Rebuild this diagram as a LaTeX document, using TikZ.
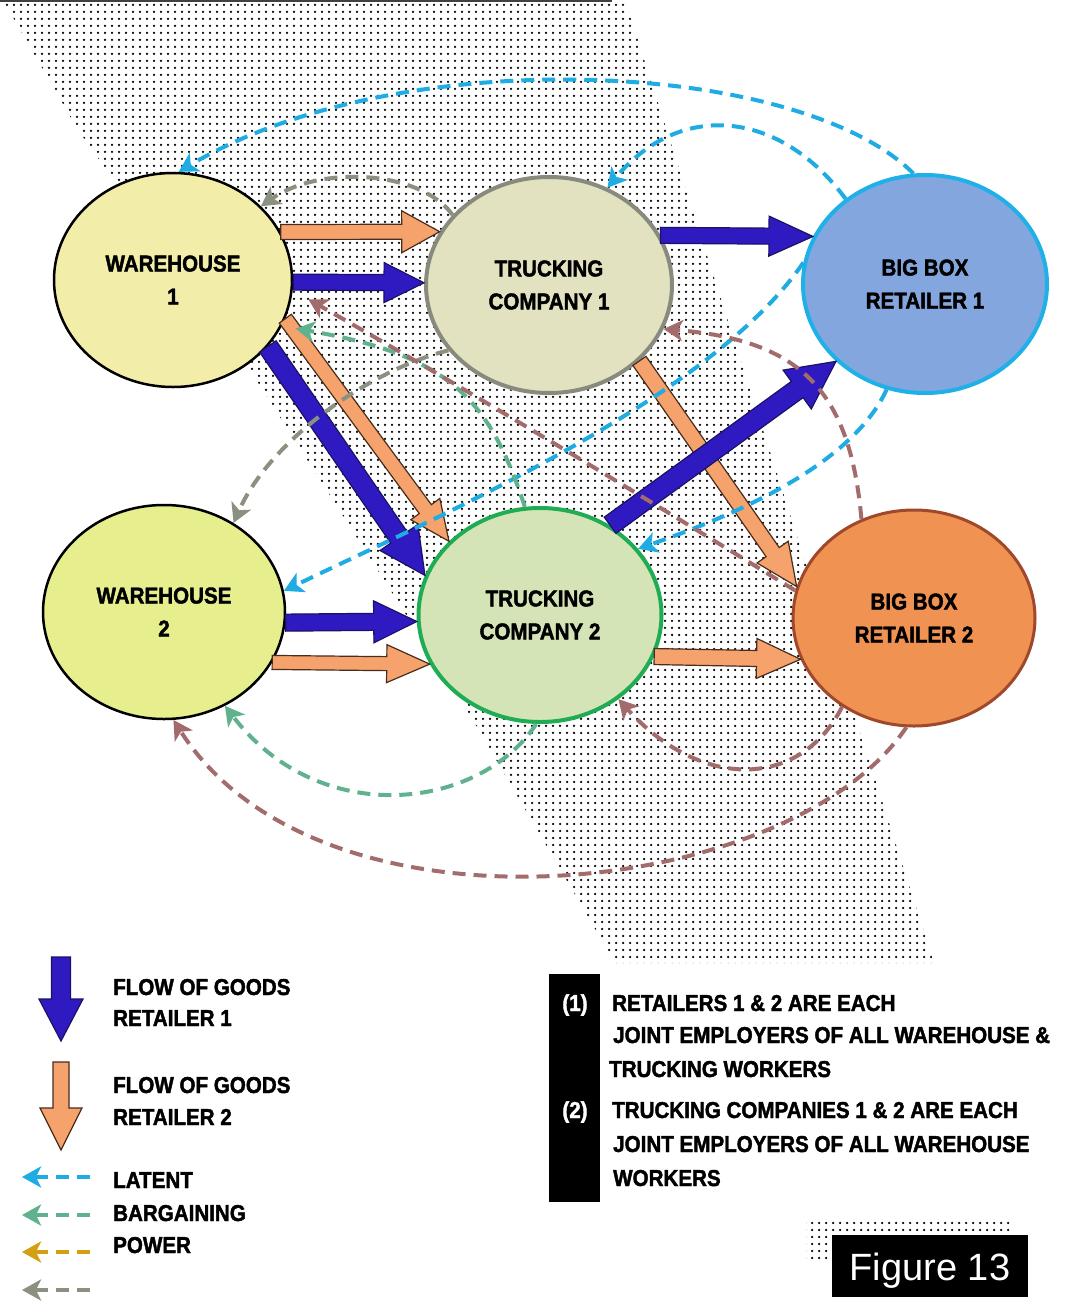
\documentclass[tikz,border=0pt]{standalone}
\usepackage{fontspec}
\setmainfont{Liberation Sans}
\newfontfamily\condbold{Liberation Sans Bold}[FakeStretch=0.895, FakeBold=1.8]
\newfontfamily\figfont{Liberation Sans}
\usetikzlibrary{arrows.meta,calc,patterns,shapes.geometric}
\pgfdeclarepatternformonly{mydots}{\pgfqpoint{-2pt}{-2pt}}{\pgfqpoint{2pt}{2pt}}{\pgfqpoint{7pt}{7pt}}{\pgfpathcircle{\pgfqpoint{0pt}{0pt}}{1.25pt}\pgfusepath{fill}}
\definecolor{cyanL}{RGB}{30,172,226}
\definecolor{grayL}{RGB}{138,145,128}
\definecolor{greenL}{RGB}{96,178,142}
\definecolor{brownL}{RGB}{163,108,108}
\definecolor{goldL}{RGB}{212,160,18}
\definecolor{blueA}{RGB}{46,26,192}
\definecolor{blueAline}{RGB}{28,18,100}
\definecolor{orangeA}{RGB}{246,162,108}
\definecolor{orangeAline}{RGB}{70,45,30}
\definecolor{wOnefill}{RGB}{242,238,170}
\definecolor{tOnefill}{RGB}{226,226,192}
\definecolor{tOneline}{RGB}{136,138,126}
\definecolor{bOnefill}{RGB}{132,166,222}
\definecolor{bOneline}{RGB}{32,176,232}
\definecolor{wTwofill}{RGB}{230,238,142}
\definecolor{tTwofill}{RGB}{212,228,182}
\definecolor{tTwoline}{RGB}{32,172,84}
\definecolor{bTwofill}{RGB}{240,146,82}
\definecolor{bTwoline}{RGB}{160,72,44}
\newcommand\blockarr[6]{%
  \coordinate (bas) at (#1);
  \coordinate (bae) at (#2);
  \coordinate (bah) at ($(bae)!#5!(bas)$);
  \filldraw[#6] ($(bas)!#3!90:(bae)$) -- ($(bah)!#3!-90:(bas)$) -- ($(bah)!#4!-90:(bas)$) -- (bae) -- ($(bah)!#4!90:(bas)$) -- ($(bah)!#3!90:(bas)$) -- ($(bas)!#3!-90:(bae)$) -- cycle;
}
\tikzset{
  ent/.style={ellipse, inner sep=0pt, align=center, text=black,
    font=\condbold\fontsize{23}{33}\selectfont},
  bluearr/.style={fill=blueA, draw=blueAline, line width=1.2pt, line join=miter},
  orangearr/.style={fill=orangeA, draw=orangeAline, line width=1.2pt, line join=miter},
  dline/.style={line width=4pt, dash pattern=on 13pt off 8pt,
    -{Stealth[length=19pt,width=21pt,inset=5pt]}},
  cyand/.style={dline, draw=cyanL},
  grayd/.style={dline, draw=grayL},
  greend/.style={dline, draw=greenL},
  brownd/.style={dline, draw=brownL},
  goldd/.style={dline, draw=goldL},
  lbl/.style={anchor=base west, inner sep=0pt, text=black,
    font=\condbold\fontsize{23}{33}\selectfont},
}
\begin{document}
\begin{tikzpicture}[x=1pt,y=-1pt]
\useasboundingbox (0,0) rectangle (1066,1307);
\fill[white] (0,0) rectangle (1066,1307);
% dotted band
\fill[pattern=mydots, pattern color=black] (3,0) -- (625,0) -- (934,963) -- (615,963) -- (470,715) -- (250,370) -- (78,130) -- cycle;
\draw[black!75, line width=1.5pt] (0,1) -- (612,1);

% nodes
\node[ent, minimum width=238pt, minimum height=214pt, fill=wOnefill, draw=black, line width=2.5pt] (w1) at (173,280) {WAREHOUSE\\1};
\node[ent, minimum width=246pt, minimum height=216pt, fill=tOnefill, draw=tOneline, line width=4pt] (tc1) at (549,285) {TRUCKING\\COMPANY 1};
\node[ent, minimum width=244pt, minimum height=218pt, fill=bOnefill, draw=bOneline, line width=4pt] (bbr1) at (925,284) {BIG BOX\\RETAILER 1};
\node[ent, minimum width=242pt, minimum height=214pt, fill=wTwofill, draw=black, line width=2.5pt] (w2) at (164,612) {WAREHOUSE\\2};
\node[ent, minimum width=243pt, minimum height=214pt, fill=tTwofill, draw=tTwoline, line width=4pt] (tc2) at (540,615) {TRUCKING\\COMPANY 2};
\node[ent, minimum width=242pt, minimum height=216pt, fill=bTwofill, draw=bTwoline, line width=3pt] (bbr2) at (914,618) {BIG BOX\\RETAILER 2};

% flow of goods
\blockarr{w1.24}{tc1.154}{7.5pt}{21pt}{38pt}{orangearr}
\blockarr{w1.-1}{tc1.179}{8pt}{20pt}{40pt}{bluearr}
\blockarr{tc1.24}{bbr1.157}{8pt}{20pt}{44pt}{bluearr}
\blockarr{w1.-35}{tc2.161}{10pt}{23pt}{46pt}{bluearr}
\blockarr{w1.-19}{tc2.141}{7.5pt}{18pt}{40pt}{orangearr}
\blockarr{tc1.-40}{bbr2.165}{8pt}{19pt}{42pt}{orangearr}
\blockarr{tc2.52}{bbr1.221}{10pt}{24pt}{48pt}{bluearr}
\blockarr{w2.-5}{tc2.183}{8.5pt}{21pt}{43pt}{bluearr}
\blockarr{w2.-25}{tc2.204}{7pt}{19pt}{43pt}{orangearr}
\blockarr{tc2.-20}{bbr2.200}{8pt}{20pt}{44pt}{orangearr}

% latent bargaining power
\draw[cyand] (bbr1.96) .. controls (800,60) and (400,40) .. (w1.87);
\draw[cyand] (bbr1.133) .. controls (780,110) and (680,100) .. (tc1.59);
\draw[cyand] (bbr1.170) .. controls (710,400) and (430,520) .. (w2.10);
\draw[cyand] (bbr1.250) .. controls (850,470) and (720,520) .. (tc2.34);
\draw[grayd] (tc1.144) .. controls (420,170) and (320,165) .. (w1.40);
\draw[grayd] (tc1.213) .. controls (370,370) and (270,440) .. (w2.52);
\draw[greend, shorten >=14pt] (tc2.98) .. controls (490,400) and (450,355) .. (w1.-23);
\draw[greend] (tc2.268) .. controls (480,810) and (320,830) .. (w2.-57);
\draw[brownd, shorten >=18pt] (bbr2.167) .. controls (640,495) and (460,385) .. (w1.-5);
\draw[brownd] (bbr2.118) .. controls (850,390) and (800,340) .. (tc1.-21);
\draw[brownd] (bbr2.231) .. controls (800,790) and (700,790) .. (tc2.-47);
\draw[brownd] (bbr2.266) .. controls (790,900) and (320,950) .. (w2.-85);

% legend
\coordinate (lbas) at (61,957);
\coordinate (lbae) at (61,1041);
\coordinate (loas) at (61,1062);
\coordinate (loae) at (61,1150);
\blockarr{lbas}{lbae}{9.5pt}{22pt}{42pt}{bluearr}
\blockarr{loas}{loae}{8pt}{21pt}{42pt}{orangearr}
\node[lbl] (lt1) at (113,995) {FLOW OF GOODS};
\node[lbl] (lt2) at (113,1026) {RETAILER 1};
\node[lbl] (lt3) at (113,1093) {FLOW OF GOODS};
\node[lbl] (lt4) at (113,1125) {RETAILER 2};
\node[lbl] (lt5) at (113,1188) {LATENT};
\node[lbl] (lt6) at (113,1221) {BARGAINING};
\node[lbl] (lt7) at (113,1253) {POWER};
\coordinate (lc1s) at (90,1177); \coordinate (lc1e) at (22,1177);
\coordinate (lc2s) at (90,1215); \coordinate (lc2e) at (22,1215);
\coordinate (lc3s) at (90,1252); \coordinate (lc3e) at (22,1252);
\coordinate (lc4s) at (90,1290); \coordinate (lc4e) at (22,1290);
\draw[cyand] (lc1s) -- (lc1e);
\draw[greend] (lc2s) -- (lc2e);
\draw[goldd] (lc3s) -- (lc3e);
\draw[grayd] (lc4s) -- (lc4e);

% notes
\node[fill=black, minimum width=51pt, minimum height=228pt, inner sep=0pt, anchor=north west] (bar) at (549,974) {};
\node[anchor=base, inner sep=0pt, text=white, font=\condbold\fontsize{23}{33}\selectfont] (n1) at (575,1011) {(1)};
\node[anchor=base, inner sep=0pt, text=white, font=\condbold\fontsize{23}{33}\selectfont] (n2) at (575,1118) {(2)};
\node[lbl] (t1) at (612,1011) {RETAILERS 1 \& 2 ARE EACH};
\node[lbl] (t2) at (613,1043) {JOINT EMPLOYERS OF ALL WAREHOUSE \&};
\node[lbl] (t3) at (609,1077) {TRUCKING WORKERS};
\node[lbl] (t4) at (612,1118) {TRUCKING COMPANIES 1 \& 2 ARE EACH};
\node[lbl] (t5) at (613,1152) {JOINT EMPLOYERS OF ALL WAREHOUSE};
\node[lbl] (t6) at (613,1186) {WORKERS};

% figure label
\fill[pattern=mydots, pattern color=black] (806,1219) rectangle (1012,1262);
\node[fill=black, minimum width=196pt, minimum height=62pt, inner sep=0pt] (figbox) at (930,1266) {};
\node[anchor=base, inner sep=0pt, text=white, font=\figfont\fontsize{38}{40}\selectfont] (figlabel) at (930,1280) {Figure 13};
\end{tikzpicture}
\end{document}
